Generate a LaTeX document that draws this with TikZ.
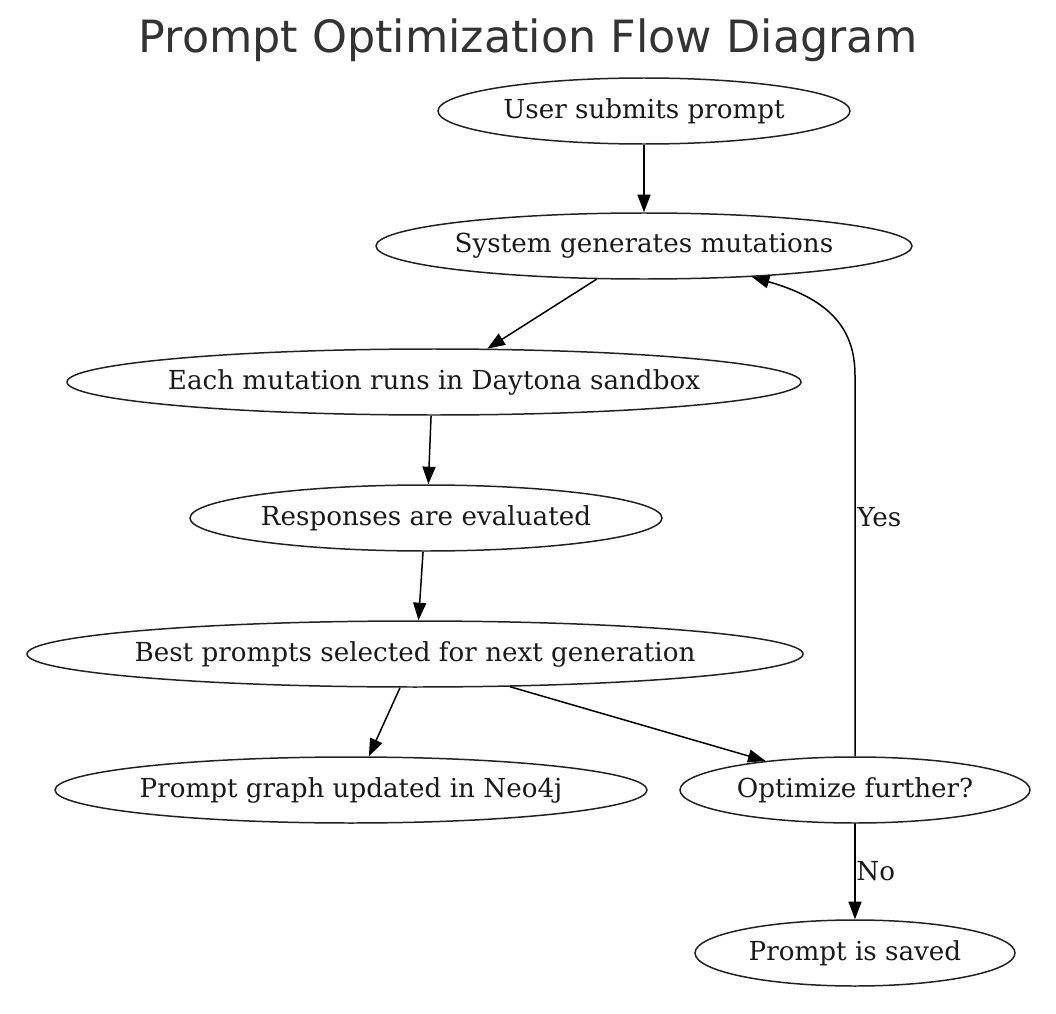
\documentclass[tikz,border=0pt]{standalone}
\usepackage{fontspec}
\setmainfont{DejaVu Serif}
\newfontfamily\titlefont{DejaVu Sans}
\usetikzlibrary{arrows.meta,shapes.geometric}
\newcommand{\nw}[1]{\makebox[0pt]{#1}}
\begin{document}
\begin{tikzpicture}[x=0.02cm,y=-0.02cm,
  stateell/.style={draw=black!87,line width=0.85pt,ellipse,inner sep=0pt,minimum height=66*0.02cm,font=\fontsize{14.9}{16}\selectfont,text=black!90},
  flow/.style={draw=black,line width=0.85pt,-{Triangle[length=10pt,width=7.4pt]}},
  lab/.style={font=\fontsize{14.9}{16}\selectfont,text=black!90,anchor=west,inner sep=0pt}]
\useasboundingbox (0,0) rectangle (1056,1014);
\node[font=\titlefont\fontsize{25.3}{30}\selectfont,text=black!80] (title) at (528,40) {Prompt Optimization Flow Diagram};
\node[stateell,minimum width=412*0.02cm] (n1) at (644,111) {\nw{User submits prompt}};
\node[stateell,minimum width=536*0.02cm] (n2) at (644,246) {\nw{System generates mutations}};
\node[stateell,minimum width=734*0.02cm] (n3) at (434,382) {\nw{Each mutation runs in Daytona sandbox}};
\node[stateell,minimum width=472*0.02cm] (n4) at (426,518) {\nw{Responses are evaluated}};
\node[stateell,minimum width=776*0.02cm] (n5) at (415,654) {\nw{Best prompts selected for next generation}};
\node[stateell,minimum width=592*0.02cm] (n6) at (351,790) {\nw{Prompt graph updated in Neo4j}};
\node[stateell,minimum width=350*0.02cm] (n7) at (855,790) {\nw{Optimize further?}};
\node[stateell,minimum width=320*0.02cm] (n8) at (855,953) {\nw{Prompt is saved}};
\coordinate (bend) at (855,375);
\draw[flow] (n1.south) -- (n2.north);
\draw[flow] (n2.215.5) -- (n3.32.6);
\draw[flow] (n3.265) -- (n4.86.4);
\draw[flow] (n4.265) -- (n5.84.6);
\draw[flow] (n5.246.2) -- (n6.62.7);
\draw[flow] (n5.341.2) -- (n7.162.9);
\draw[flow] (n7.north) -- (bend) .. controls (855,325) and (825,298) .. (n2.344.6);
\draw[flow] (n7.south) -- (n8.north);
\node[lab] (yes) at (857,517) {Yes};
\node[lab] (no) at (856,871) {No};
\end{tikzpicture}
\end{document}
